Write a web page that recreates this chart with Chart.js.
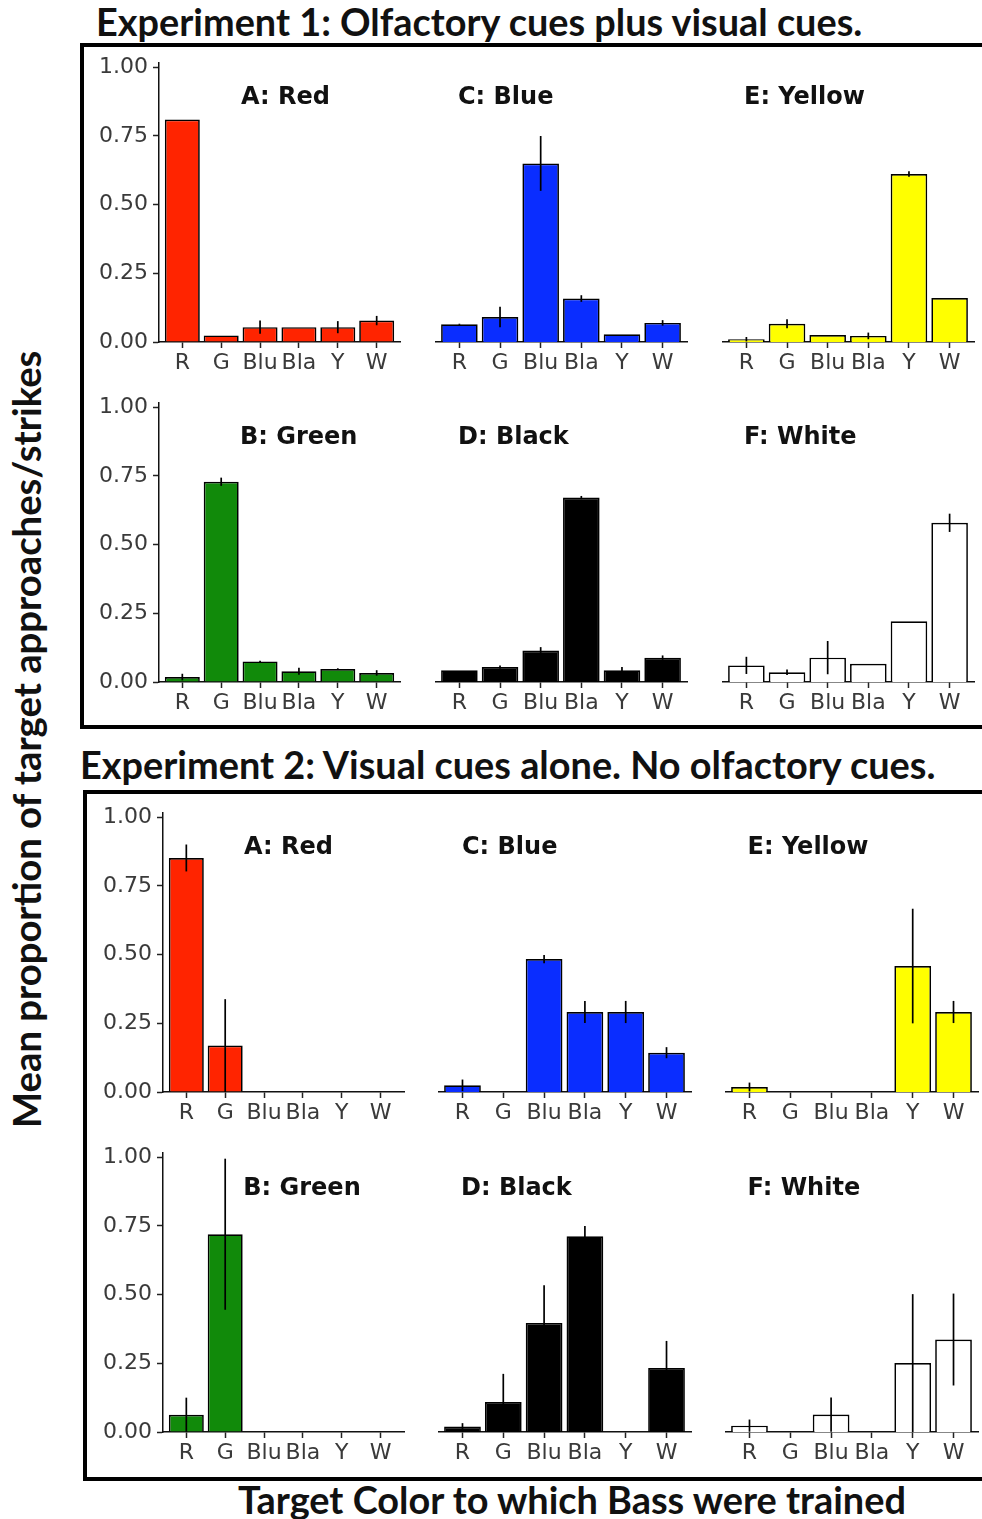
<!DOCTYPE html>
<html>
<head>
<meta charset="utf-8">
<script src="https://cdn.jsdelivr.net/npm/chart.js@4.4.1/dist/chart.umd.min.js"></script>
<style>
body{margin:0;width:982px;height:1519px;overflow:hidden;background:#fff;position:relative}
.box{position:absolute;border:4px solid #000;box-sizing:border-box}
.ttl{position:absolute;white-space:nowrap;font-family:Lato;font-weight:bold;color:#111;line-height:1;font-size:30px}
.pt{position:absolute;white-space:nowrap;font:bold 24px "DejaVu Sans";line-height:24px;color:#111}
canvas{position:absolute}
</style>
</head>
<body>
<div class="box" style="left:80px;top:43px;width:960px;height:686px"></div>
<div class="box" style="left:83px;top:790px;width:960px;height:691px"></div>
<div class="ttl" id="t1" style="left:96px;top:3px">Experiment 1: Olfactory cues plus visual cues.</div>
<div class="ttl" id="t2" style="left:80px;top:746px">Experiment 2: Visual cues alone. No olfactory cues.</div>
<div class="ttl" id="tx" style="left:238px;top:1481px">Target Color to which Bass were trained</div>
<div class="ttl" id="ty" style="left:0px;top:0px;transform-origin:0 0">Mean proportion of target approaches/strikes</div>
<script>
// categorias del eje x
const cats = ['R', 'G', 'Blu', 'Bla', 'Y', 'W'];
const yTicks = [0, 0.25, 0.5, 0.75, 1];

// Experimento 1: olfativo + visual (media, error)
const e1Red = [0.81, 0.024, 0.054, 0.054, 0.054, 0.078];
const e1RedErr = [0, 0, 0.024, 0, 0.022, 0.017];
const e1Blue = [0.064, 0.090, 0.645, 0.157, 0.028, 0.069];
const e1BlueErr = [0.002, 0.037, 0.099, 0.012, 0, 0.01];
const e1Yellow = [0.010, 0.066, 0.025, 0.022, 0.607, 0.159];
const e1YellowErr = [0.008, 0.016, 0, 0.012, 0.01, 0];
const e1Green = [0.018, 0.729, 0.075, 0.039, 0.047, 0.033];
const e1GreenErr = [0.012, 0.015, 0.002, 0.013, 0.003, 0.01];
const e1Black = [0.042, 0.054, 0.114, 0.666, 0.042, 0.088];
const e1BlackErr = [0, 0.006, 0.012, 0.006, 0.012, 0.008];
const e1White = [0.060, 0.035, 0.088, 0.066, 0.219, 0.575];
const e1WhiteErr = [0.031, 0.01, 0.06, 0, 0, 0.033];

// Experimento 2: solo visual
const e2Red = [0.852, 0.169, 0, 0, 0, 0];
const e2RedErr = [0.049, 0.169, 0, 0, 0, 0];
const e2Blue = [0.024, 0, 0.480, 0.289, 0.289, 0.142];
const e2BlueErr = [0.021, 0, 0.015, 0.04, 0.04, 0.02];
const e2Yellow = [0.018, 0, 0, 0, 0.455, 0.289];
const e2YellowErr = [0.016, 0, 0, 0, 0.207, 0.04];
const e2Green = [0.063, 0.720, 0, 0, 0, 0];
const e2GreenErr = [0.062, 0.275, 0, 0, 0, 0];
const e2Black = [0.020, 0.108, 0.394, 0.707, 0, 0.231];
const e2BlackErr = [0.012, 0.102, 0.136, 0.037, 0, 0.098];
const e2White = [0.023, 0, 0.063, 0, 0.249, 0.334];
const e2WhiteErr = [0.022, 0, 0.062, 0, 0.249, 0.166];

const RED = '#ff2400', BLUE = '#0a2dff', GREEN = '#118a0a', YELLOW = '#ffff00', BLACK = '#000000', WHITE = '#ffffff';

const UNIT = 276.7;   // px por 1.0
const YMAX = 1.015;

// paneles: titulo, datos, error, color, posicion (x izq del area, ancho, y del cero, x del titulo)
const panels = [
  {t:'A: Red', v:e1Red, e:e1RedErr, c:RED, x:159.4, w:240.6, y0:341.7, yAxis:true, tx:241, ty:95.3},
  {t:'C: Blue', v:e1Blue, e:e1BlueErr, c:BLUE, x:434.9, w:252.3, y0:341.7, yAxis:false, tx:458, ty:95.3},
  {t:'E: Yellow', v:e1Yellow, e:e1YellowErr, c:YELLOW, x:722.3, w:252.3, y0:341.7, yAxis:false, tx:744, ty:95.3},
  {t:'B: Green', v:e1Green, e:e1GreenErr, c:GREEN, x:159.4, w:240.6, y0:681.7, yAxis:true, tx:240, ty:435.3},
  {t:'D: Black', v:e1Black, e:e1BlackErr, c:BLACK, x:434.9, w:252.3, y0:681.7, yAxis:false, tx:458, ty:435.3},
  {t:'F: White', v:e1White, e:e1WhiteErr, c:WHITE, x:722.3, w:252.3, y0:681.7, yAxis:false, tx:744, ty:435.3},
  {t:'A: Red', v:e2Red, e:e2RedErr, c:RED, x:162.7, w:241.2, y0:1091.7, yAxis:true, tx:244, ty:845.3},
  {t:'C: Blue', v:e2Blue, e:e2BlueErr, c:BLUE, x:438.2, w:253, y0:1091.7, yAxis:false, tx:462, ty:845.3},
  {t:'E: Yellow', v:e2Yellow, e:e2YellowErr, c:YELLOW, x:724.8, w:253, y0:1091.7, yAxis:false, tx:747.6, ty:845.3},
  {t:'B: Green', v:e2Green, e:e2GreenErr, c:GREEN, x:162.7, w:241.2, y0:1431.7, yAxis:true, tx:243.3, ty:1186.7},
  {t:'D: Black', v:e2Black, e:e2BlackErr, c:BLACK, x:438.2, w:253, y0:1431.7, yAxis:false, tx:461, ty:1186.7},
  {t:'F: White', v:e2White, e:e2WhiteErr, c:WHITE, x:724.8, w:253, y0:1431.7, yAxis:false, tx:747.6, ty:1186.7}
];

// barras de error (lineas verticales sin tope)
const errPlugin = {
  id: 'errbars',
  afterDatasetsDraw(chart) {
    const ds = chart.data.datasets[0];
    const xs = chart.scales.x, ys = chart.scales.y, ctx = chart.ctx;
    ctx.save();
    ctx.strokeStyle = '#000';
    ctx.lineWidth = 1.7;
    ds.data.forEach((d, i) => {
      const e = ds.err[i];
      if (!e) return;
      const x = xs.getPixelForValue(d.x);
      ctx.beginPath();
      ctx.moveTo(x, ys.getPixelForValue(Math.max(0, d.y - e)));
      ctx.lineTo(x, ys.getPixelForValue(d.y + e));
      ctx.stroke();
    });
    ctx.restore();
  }
};

const PADT = 16, PADR = 14, XH = 36, YW = 70;

function makePanel(p) {
  const yW = p.yAxis ? YW : 0;
  const aTop = p.y0 - YMAX * UNIT;
  const w = Math.round(yW + p.w + PADR), h = Math.round(PADT + YMAX * UNIT + XH);
  const c = document.createElement('canvas');
  c.width = w; c.height = h;
  c.style.left = (p.x - yW) + 'px';
  c.style.top = (aTop - PADT) + 'px';
  document.body.appendChild(c);
  new Chart(c, {
    type: 'bar',
    data: {
      datasets: [{
        data: p.v.map((v, i) => ({x: i, y: v})),
        err: p.e,
        backgroundColor: p.c,
        borderColor: '#000',
        borderWidth: 1.7,
        barPercentage: 0.9,
        categoryPercentage: 1
      }]
    },
    options: {
      responsive: false,
      animation: false,
      layout: {padding: {top: PADT, right: PADR, left: 0, bottom: 0}},
      plugins: {legend: {display: false}, tooltip: {enabled: false}},
      scales: {
        x: {
          type: 'linear', min: -0.6, max: 5.6, offset: false,
          afterBuildTicks: s => { s.ticks = cats.map((c, i) => ({value: i})); },
          afterFit: s => { s.height = XH; },
          grid: {offset: false, drawOnChartArea: false, drawTicks: true, tickLength: 6, tickColor: '#222', tickWidth: 1.5},
          border: {display: true, color: '#111', width: 1.5},
          ticks: {callback: v => cats[v], font: {family: 'DejaVu Sans', size: 22}, color: '#3a3a3a', padding: 2, maxRotation: 0, autoSkip: false}
        },
        y: {
          display: p.yAxis, min: 0, max: YMAX,
          afterBuildTicks: s => { s.ticks = yTicks.map(v => ({value: v})); },
          afterFit: s => { s.width = yW; },
          grid: {drawOnChartArea: false, drawTicks: true, tickLength: 6, tickColor: '#222', tickWidth: 1.5},
          border: {display: true, color: '#111', width: 1.5},
          ticks: {callback: v => v.toFixed(2), font: {family: 'DejaVu Sans', size: 22}, color: '#3a3a3a', padding: 5}
        }
      }
    },
    plugins: [errPlugin]
  });
  const t = document.createElement('div');
  t.className = 'pt';
  t.textContent = p.t;
  t.style.left = p.tx + 'px';
  t.style.top = (p.ty - 11.5) + 'px';
  document.body.appendChild(t);
}

panels.forEach(makePanel);

// ajustar titulos al ancho del original
function fit(id, target) {
  const el = document.getElementById(id);
  const fs = parseFloat(getComputedStyle(el).fontSize);
  el.style.fontSize = (fs * target / el.offsetWidth) + 'px';
  return el;
}
fit('t1', 766);
fit('t2', 856);
fit('tx', 668);
const ty = fit('ty', 778);
ty.style.transform = 'rotate(-90deg)';
ty.style.left = (26 - ty.offsetHeight / 2) + 'px';
ty.style.top = 1128 + 'px';
</script>
</body>
</html>
